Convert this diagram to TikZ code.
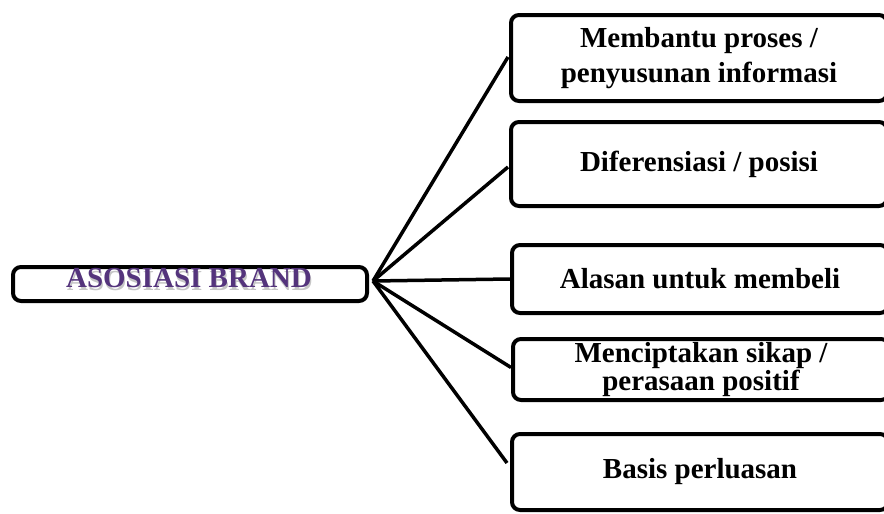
\documentclass[tikz,border=0pt]{standalone}
\usepackage{fontspec}
\setmainfont{Liberation Serif}
\usetikzlibrary{calc}
\definecolor{ungu}{RGB}{84,52,124}
\newcommand{\teksbayang}[1]{\rlap{\raisebox{-3pt}{\hspace{1pt}\textcolor{gray!45}{#1}}}\textcolor{ungu}{#1}}

\begin{document}
\begin{tikzpicture}[x=1pt,y=-1pt,
    kotak/.style={draw,line width=4pt,rounded corners=8pt,minimum width=376pt,
      inner sep=0pt,align=center,font=\fontsize{29}{35}\selectfont\bfseries},
    garis/.style={line width=3.5pt},
    judul/.style={inner sep=0pt,font=\fontsize{29}{35}\selectfont\bfseries}]
	  \useasboundingbox (0,0) rectangle (884,514);
	  \clip (0,0) rectangle (884,514);
	  %\draw[help lines] (0,0) grid[step=50] (884,514);
	  % kotak kiri
	  \node[kotak,minimum width=354pt,minimum height=34pt] (asosiasi) at (190,284) {};
	  \node[judul] (teks) at (189,280) {\teksbayang{ASOSIASI BRAND}};
	  \coordinate (pusat) at (373,281);
	  % kotak kanan
	  \node[kotak,minimum height=86pt] (b1) at (699,58) {Membantu proses /\\penyusunan informasi};
	  \node[kotak,minimum height=84pt] (b2) at (699,164) {Diferensiasi / posisi};
	  \node[kotak,minimum height=68pt] (b3) at (700,279) {Alasan untuk membeli};
	  \node[kotak,minimum height=61pt,font=\fontsize{29}{23}\selectfont\bfseries] (b4) at (701,369.5) {Menciptakan sikap /\\perasaan positif};
	  \node[kotak,minimum height=76pt] (b5) at (700,472) {Basis perluasan};
	  % garis
	  \draw[garis] (pusat) -- ($(b1.west)+(-1,-1)$);
	  \draw[garis] (pusat) -- ($(b2.west)+(-1,3)$);
	  \draw[garis] (pusat) -- (b3.west);
	  \draw[garis] (pusat) -- ($(b4.west)+(0,-2)$);
	  \draw[garis] (pusat) -- ($(b5.west)+(-3,-9)$);
\end{tikzpicture}
\end{document}
